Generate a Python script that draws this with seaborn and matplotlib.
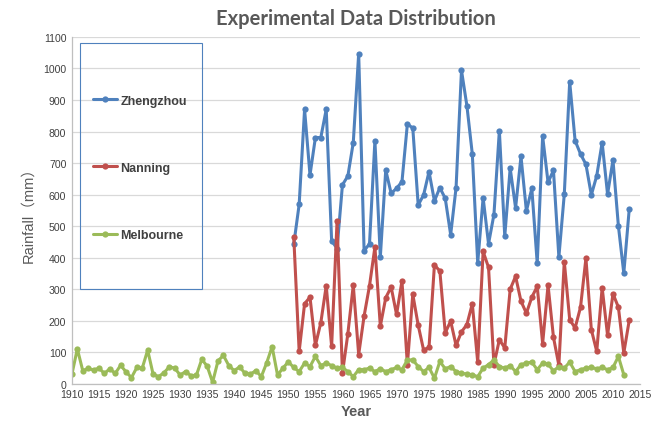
import numpy as np
import pandas as pd
import matplotlib
matplotlib.use("Agg")
import matplotlib.pyplot as plt
from matplotlib.patches import Rectangle
import seaborn as sns

# rainfall (mm)
zz_years = np.arange(1951, 2014)
zhengzhou = [442, 569, 870, 662, 781, 781, 870, 454, 429, 631,
             659, 765, 1047, 422, 444, 771, 402, 678, 604, 620,
             641, 824, 811, 567, 599, 673, 580, 622, 588, 473,
             622, 994, 882, 729, 384, 590, 444, 537, 803, 468,
             684, 558, 721, 548, 620, 382, 785, 639, 677, 402,
             601, 958, 771, 729, 696, 599, 660, 765, 601, 710,
             501, 351, 553]

nn_years = np.arange(1951, 2014)
nanning = [466, 103, 254, 275, 122, 194, 311, 119, 515, 34,
           159, 313, 93, 215, 311, 434, 183, 273, 307, 220,
           326, 61, 284, 186, 107, 116, 377, 358, 162, 199,
           122, 165, 188, 254, 69, 420, 369, 61, 140, 114,
           300, 341, 262, 224, 275, 309, 128, 313, 148, 59,
           388, 204, 177, 243, 398, 172, 103, 305, 154, 286,
           243, 98, 201]

mb_years = np.arange(1910, 2013)
melbourne = [31, 111, 42, 49, 44, 50, 33, 48, 33, 59,
             38, 20, 52, 50, 107, 31, 23, 35, 54, 50,
             28, 39, 26, 27, 78, 56, 5, 73, 90, 58,
             42, 54, 33, 31, 42, 23, 67, 118, 28, 50,
             70, 52, 39, 66, 55, 87, 58, 66, 58, 50,
             52, 39, 23, 45, 45, 50, 39, 48, 39, 45,
             52, 45, 76, 76, 55, 39, 52, 18, 71, 48,
             55, 39, 34, 31, 29, 23, 50, 61, 76, 55,
             50, 58, 39, 61, 66, 69, 45, 66, 63, 41,
             55, 50, 69, 39, 45, 50, 52, 48, 52, 45,
             52, 87, 29]

cities = ["Zhengzhou", "Nanning", "Melbourne"]
colors = ["#4F81BD", "#C0504D", "#9BBB59"]

df = pd.concat([
    pd.DataFrame({"Year": zz_years, "Rainfall": zhengzhou, "City": "Zhengzhou"}),
    pd.DataFrame({"Year": nn_years, "Rainfall": nanning, "City": "Nanning"}),
    pd.DataFrame({"Year": mb_years, "Rainfall": melbourne, "City": "Melbourne"}),
])

sns.set_style("white")
plt.rcParams['font.family'] = ['Liberation Sans', 'DejaVu Sans', 'Noto Sans CJK SC']

fig = plt.figure(figsize=(6.66, 4.31), dpi=100)
ax = fig.add_axes([0.108, 0.107, 0.853, 0.805])

sns.lineplot(data=df, x="Year", y="Rainfall", hue="City", hue_order=cities,
             palette=colors, marker="o", markersize=4.5, markeredgewidth=0,
             linewidth=2.2, ax=ax)

ax.set_xlim(1910, 2015)
ax.set_ylim(0, 1100)
ax.set_xticks(np.arange(1910, 2016, 5))
ax.set_yticks(np.arange(0, 1101, 100))
ax.yaxis.grid(True, color="#D9D9D9", linewidth=0.9)
ax.set_axisbelow(True)
for s in ["top", "right"]:
    ax.spines[s].set_visible(False)
for s in ["left", "bottom"]:
    ax.spines[s].set_color("#BFBFBF")
    ax.spines[s].set_linewidth(0.9)
ax.tick_params(axis="both", labelsize=7.6, colors="#404040", length=0, pad=4)

ax.set_xlabel("Year", fontsize=10.5, fontweight="bold", color="#595959", labelpad=3)
ax.set_ylabel("Rainfall（mm）", fontsize=10.5, color="#595959", labelpad=6,
              family=['Liberation Sans', 'Noto Sans CJK SC'])
fig.suptitle("Experimental Data Distribution", x=0.535, y=0.98,
             fontsize=14.5, fontweight="bold", color="#595959",
             family=['Lato', 'DejaVu Sans'])

# legend box (Excel style, tall frame)
ax.add_patch(Rectangle((0.014, 0.274), 0.215, 0.709, transform=ax.transAxes,
                       fill=False, edgecolor="#4F81BD", linewidth=0.8, zorder=5))

handles, labels = ax.get_legend_handles_labels()
leg = ax.legend(handles, labels, loc="upper left",
                bbox_to_anchor=(0.037, 0.834), fontsize=9, labelspacing=4.42,
                borderpad=0, handlelength=1.9, handletextpad=0.3,
                frameon=False, borderaxespad=0)
for t in leg.get_texts():
    t.set_color("#404040")
    t.set_fontweight("bold")

fig.savefig("out.png", dpi=100)
